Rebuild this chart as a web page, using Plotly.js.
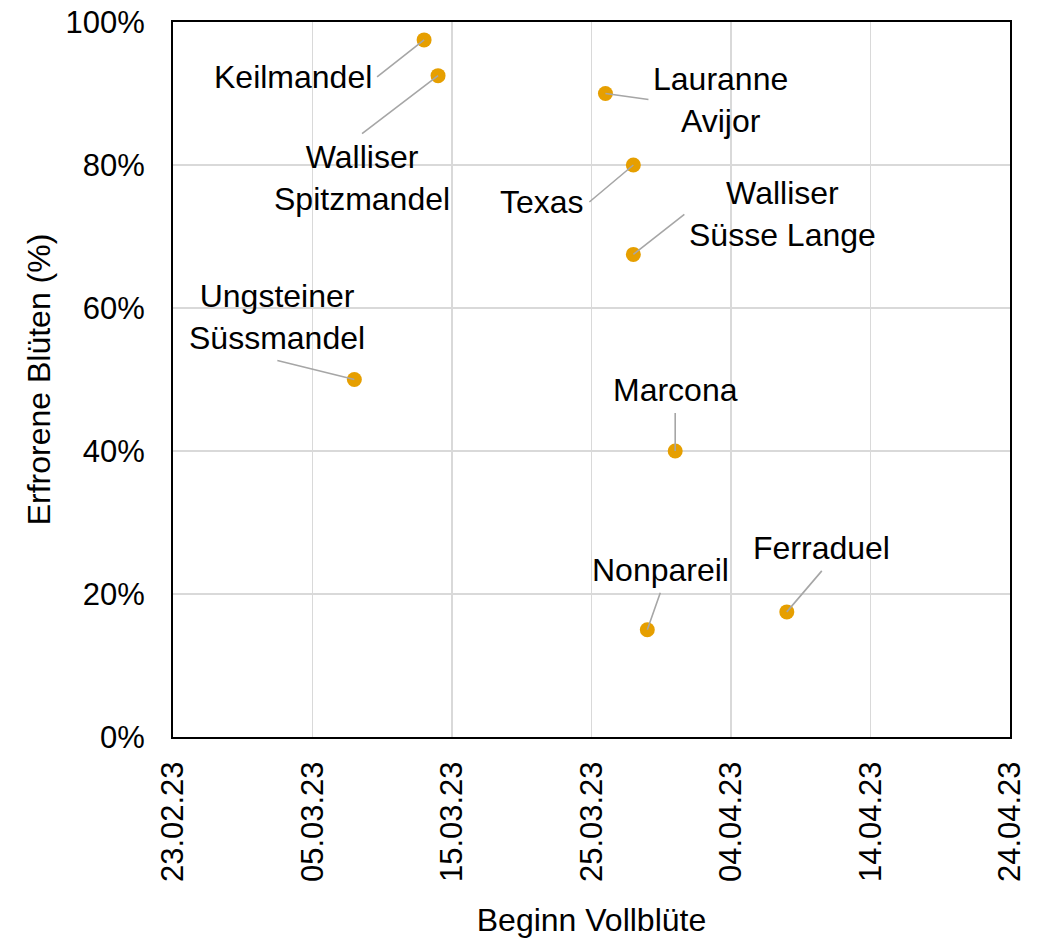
<!DOCTYPE html>
<html>
<head>
<meta charset="utf-8">
<script src="https://cdn.plot.ly/plotly-3.0.1.min.js"></script>
<style>
  html, body { margin: 0; padding: 0; background: #fff; }
  #chart { width: 1053px; height: 940px; }
</style>
</head>
<body>
<div id="chart"></div>
<script>
// Sorten, Beginn Vollblüte und erfrorene Blüten (%)
const sorten = ['Keilmandel', 'Walliser<br>Spitzmandel', 'Lauranne<br>Avijor', 'Texas',
  'Walliser<br>Süsse Lange', 'Ungsteiner<br>Süssmandel', 'Marcona', 'Nonpareil', 'Ferraduel'];
const beginn = ['2023-03-13', '2023-03-14', '2023-03-26', '2023-03-28',
  '2023-03-28', '2023-03-08', '2023-03-31', '2023-03-29', '2023-04-08'];
const erfroren = [97.5, 92.5, 90, 80, 67.5, 50, 40, 15, 17.5];

// leader line tail relative to the point (px) and where the text hangs on it
const labelDx = [-47, -76, 43, -44, 51, -77, 0, 13, 35];
const labelDy = [37, 58, 6, 37, -40, -19, -38, -37, -41];
const labelXAnchor = ['right', 'center', 'left', 'right', 'left', 'center', 'center', 'center', 'center'];
const labelYAnchor = ['middle', 'top', 'middle', 'middle', 'middle', 'bottom', 'bottom', 'bottom', 'bottom'];

const font = "'Liberation Sans', Arial, sans-serif";

const points = {
  x: beginn,
  y: erfroren,
  type: 'scatter',
  mode: 'markers',
  marker: { color: '#E69F00', size: 15 },
  hoverinfo: 'skip'
};

const labels = sorten.map((s, i) => ({
  x: beginn[i],
  y: erfroren[i],
  text: s,
  showarrow: true,
  arrowhead: 0,
  arrowwidth: 1.6,
  arrowcolor: '#a6a6a6',
  ax: labelDx[i],
  ay: labelDy[i],
  xanchor: labelXAnchor[i],
  yanchor: labelYAnchor[i],
  borderpad: 4,
  standoff: 0,
  font: { size: 32, color: '#000', family: font }
}));

const layout = {
  width: 1053,
  height: 940,
  margin: { l: 173, r: 43, t: 22, b: 203 },
  paper_bgcolor: '#fff',
  plot_bgcolor: '#fff',
  font: { family: font, color: '#000', size: 31 },
  showlegend: false,
  xaxis: {
    type: 'date',
    range: ['2023-02-23', '2023-04-24'],
    tick0: '2023-02-23',
    dtick: 10 * 24 * 3600 * 1000,
    tickformat: '%d.%m.%y',
    tickangle: -90,
    ticks: '',
    ticklabelstandoff: 10,
    showgrid: true,
    gridcolor: '#d9d9d9',
    gridwidth: 1.5,
    showline: true,
    mirror: true,
    linecolor: '#000',
    linewidth: 2,
    zeroline: false,
    title: { text: 'Beginn Vollblüte', font: { size: 32 }, standoff: 28 }
  },
  yaxis: {
    range: [0, 100],
    dtick: 20,
    ticksuffix: '%',
    ticks: '',
    ticklabelstandoff: 20,
    showgrid: true,
    gridcolor: '#d9d9d9',
    gridwidth: 1.5,
    showline: true,
    mirror: true,
    linecolor: '#000',
    linewidth: 2,
    zeroline: false,
    title: { text: 'Erfrorene Blüten (%)', font: { size: 32 }, standoff: 5 }
  },
  annotations: labels
};

Plotly.newPlot('chart', [points], layout, { displayModeBar: false, staticPlot: true });
</script>
</body>
</html>
